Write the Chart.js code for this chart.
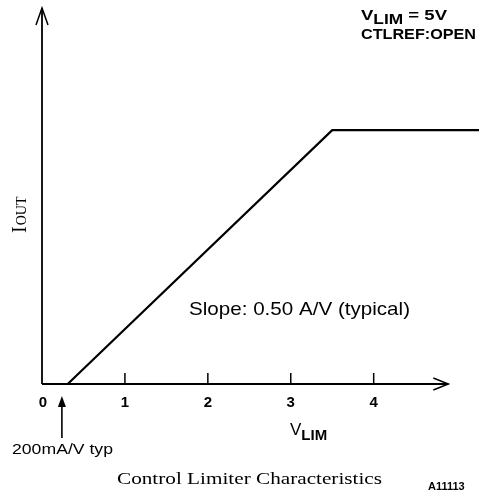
<!DOCTYPE html>
<html>
<head>
<meta charset="utf-8">
<script src="https://cdn.jsdelivr.net/npm/chart.js@4"></script>
<style>
  html, body { margin: 0; padding: 0; background: #fff; }
  #wrap { width: 480px; height: 495px; position: relative; }
</style>
</head>
<body>
<div id="wrap"><canvas id="limiterChart"></canvas></div>
<script>
// Control limiter curve: I_OUT vs V_LIM
const vlim = [0.31, 3.5, 5.27];
const iout = [0, 1.6, 1.6];
const xTicks = [0, 1, 2, 3, 4];
const xArrowAt = 4.9;
const yArrowAt = 2.37;

const sans = 'Liberation Sans, Arial, sans-serif';
const serif = 'Liberation Serif, Times New Roman, serif';

// draw text squeezed/stretched to a given width
function fitText(ctx, text, x, y, width, font) {
    ctx.save();
    ctx.font = font;
    const w = ctx.measureText(text).width;
    ctx.translate(x, y);
    ctx.scale(width / w, 1);
    ctx.fillText(text, 0, 0);
    ctx.restore();
}

// text with a subscript part, e.g. V + LIM; optional target width
function subText(ctx, x, y, main, sub, rest, font, subFont, drop, width) {
    ctx.save();
    ctx.font = font;
    const w1 = ctx.measureText(main).width;
    const w3 = rest ? ctx.measureText(rest).width : 0;
    ctx.font = subFont;
    const w2 = ctx.measureText(sub).width;
    ctx.translate(x, y);
    if (width) ctx.scale(width / (w1 + w2 + w3), 1);
    ctx.font = font;
    ctx.fillText(main, 0, 0);
    ctx.font = subFont;
    ctx.fillText(sub, w1, drop);
    if (rest) {
        ctx.font = font;
        ctx.fillText(rest, w1 + w2, 0);
    }
    ctx.restore();
}

const axesPlugin = {
    id: 'axesPlugin',
    afterDatasetsDraw(chart) {
        const ctx = chart.ctx;
        const xs = chart.scales.x, ys = chart.scales.y;
        const x0 = xs.getPixelForValue(0), y0 = ys.getPixelForValue(0);
        const xEnd = xs.getPixelForValue(xArrowAt), yEnd = ys.getPixelForValue(yArrowAt);
        ctx.save();
        ctx.strokeStyle = '#000';
        ctx.fillStyle = '#000';
        ctx.lineWidth = 1.8;
        ctx.lineCap = 'butt';
        // axes
        ctx.beginPath();
        ctx.moveTo(x0, y0); ctx.lineTo(xEnd, y0);
        ctx.moveTo(x0, y0); ctx.lineTo(x0, yEnd);
        ctx.stroke();
        // arrow heads
        ctx.lineWidth = 1.5;
        ctx.beginPath();
        ctx.moveTo(xEnd - 15, y0 - 6); ctx.lineTo(xEnd, y0); ctx.lineTo(xEnd - 15, y0 + 6);
        ctx.moveTo(x0 - 6, yEnd + 17); ctx.lineTo(x0, yEnd); ctx.lineTo(x0 + 6, yEnd + 17);
        ctx.stroke();
        // tick marks and labels
        ctx.lineWidth = 1.5;
        ctx.textAlign = 'center';
        ctx.textBaseline = 'alphabetic';
        ctx.font = 'bold 15px ' + sans;
        xTicks.forEach(t => {
            const px = xs.getPixelForValue(t);
            if (t > 0) {
                ctx.beginPath();
                ctx.moveTo(px, y0); ctx.lineTo(px, y0 - 11);
                ctx.stroke();
            }
            ctx.fillText(String(t), px + (t === 0 ? 1 : 0), y0 + 23);
        });
        ctx.textAlign = 'left';
        // axis titles
        subText(ctx, 290, 435, 'V', 'LIM', '', '17px ' + sans, 'bold 15px ' + sans, 5);
        ctx.save();
        ctx.translate(26, 233);
        ctx.rotate(-Math.PI / 2);
        ctx.font = '20px ' + serif;
        ctx.fillText('I', 0, 0);
        const w = ctx.measureText('I').width;
        ctx.font = '14px ' + serif;
        ctx.fillText('OUT', w + 1, 0);
        ctx.restore();
        // conditions
        subText(ctx, 361, 20, 'V', 'LIM', ' = 5V', 'bold 15px ' + sans, 'bold 14px ' + sans, 4, 86);
        fitText(ctx, 'CTLREF:OPEN', 361, 39, 115, 'bold 15px ' + sans);
        // slope note
        fitText(ctx, 'Slope: 0.50 A/V (typical)', 189, 315, 221, '19px ' + sans);
        // 200mA/V arrow
        const ax = xs.getPixelForValue(0.24);
        ctx.lineWidth = 1.6;
        ctx.beginPath();
        ctx.moveTo(ax, 438); ctx.lineTo(ax, 404);
        ctx.stroke();
        ctx.beginPath();
        ctx.moveTo(ax, 396); ctx.lineTo(ax - 4, 407); ctx.lineTo(ax + 4, 407);
        ctx.closePath();
        ctx.fill();
        fitText(ctx, '200mA/V typ', 12, 454, 101, '15px ' + sans);
        // caption
        fitText(ctx, 'Control Limiter Characteristics', 117, 484, 265, '17px ' + serif);
        ctx.font = 'bold 11px ' + sans;
        ctx.fillText('A11113', 428, 490);
        ctx.restore();
    }
};

new Chart(document.getElementById('limiterChart').getContext('2d'), {
    type: 'scatter',
    data: {
        datasets: [{
            label: 'I_OUT',
            data: vlim.map((v, i) => ({ x: v, y: iout[i] })),
            showLine: true,
            borderColor: '#000',
            borderWidth: 2.2,
            pointRadius: 0,
            tension: 0,
            clip: false
        }]
    },
    options: {
        responsive: true,
        maintainAspectRatio: false,
        animation: false,
        layout: { padding: { left: 42, right: 1, top: 8, bottom: 111 } },
        plugins: {
            legend: { display: false },
            tooltip: { enabled: false }
        },
        scales: {
            x: { type: 'linear', min: 0, max: 5.27, display: false },
            y: { type: 'linear', min: 0, max: yArrowAt, display: false }
        }
    },
    plugins: [axesPlugin]
});
</script>
</body>
</html>
